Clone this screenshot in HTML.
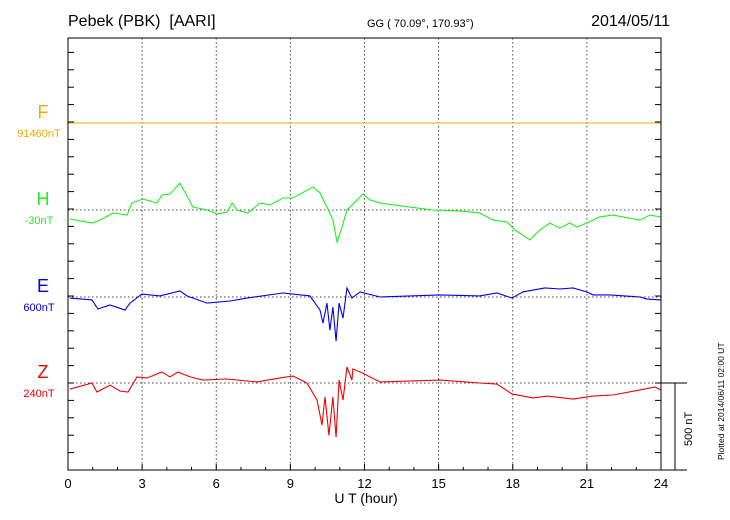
<!DOCTYPE html>
<html><head><meta charset="utf-8"><style>
body{margin:0;background:#fff;}
svg{display:block;font-family:"Liberation Sans",sans-serif;}
</style></head><body>
<svg id="chart" width="730" height="520">
<text x="68" y="26" font-size="16">Pebek (PBK)&#160; [AARI]</text>
<text x="367" y="27" font-size="11">GG ( 70.09°, 170.93°)</text>
<text x="670" y="26" font-size="16" text-anchor="end">2014/05/11</text>
<text x="366" y="503" font-size="14" text-anchor="middle">U T (hour)</text>
<text transform="translate(724,460) rotate(-90)" font-size="8.5">Plotted at 2014/06/11 02:00 UT</text>
<g id="grid"></g><g id="series"></g><g id="axes"></g>
</svg>
<script>
const xTicks=[0,3,6,9,12,15,18,21,24];
const compNames=["F","H","E","Z"];
const compBaseLabels=["91460nT","-30nT","600nT","240nT"];
const hT=[0.08,0.97,1.30,1.82,2.39,2.59,3.04,3.60,3.80,4.13,4.53,5.06,5.63,6.03,6.43,6.64,6.84,7.28,7.77,8.17,8.70,9.10,9.92,10.2,10.48,10.72,10.89,11.09,11.29,11.5,11.94,12.22,12.63,13.84,14.77,15.86,16.67,17.2,17.77,18.09,18.7,19.1,19.5,19.9,20.3,20.6,21.1,21.5,22.06,23.15,23.55,24];
const hV=[-52,-75,-58,-17,-29,40,63,40,86,92,155,17,0,-23,-12,40,0,-17,40,29,69,69,132,98,17,-58,-184,-98,0,29,92,58,40,17,0,-6,-17,-58,-69,-115,-172,-115,-75,-104,-75,-98,-69,-40,-29,-58,-29,-40];
const eT=[0.08,0.97,1.21,1.70,2.31,2.51,2.99,3.72,4.53,4.82,5.63,6.56,7.24,8.70,9.79,10.2,10.32,10.48,10.6,10.72,10.85,10.97,11.13,11.29,11.49,11.82,12.63,15.05,16.67,17.36,17.97,18.41,19.3,19.91,20.44,21.0,21.25,21.93,23.15,23.43,24];
const eV=[-6,-17,-69,-46,-75,-35,17,6,35,6,-35,-23,-6,23,6,-75,-150,-35,-190,-58,-253,-35,-121,52,-6,29,0,12,6,23,-6,29,52,46,52,29,12,12,0,-12,-17];
const zT=[0.08,0.97,1.17,1.70,2.10,2.43,2.79,3.20,3.80,4.13,4.45,4.94,5.46,6.43,7.65,8.58,9.11,9.67,10.08,10.28,10.40,10.56,10.72,10.85,10.97,11.13,11.29,11.49,11.53,11.9,12.63,15.05,16.67,17.36,17.97,18.82,19.38,20.44,21.25,22.06,23.15,23.76,24];
const zV=[-35,0,-52,-12,-46,-52,35,29,63,35,63,35,17,23,6,29,40,0,-98,-242,-81,-300,-81,-311,17,-98,92,17,81,58,6,17,0,-6,-63,-86,-75,-92,-75,-69,-40,-23,-40];
const fT=[0,24];
const fV=[0,0];

const NS="http://www.w3.org/2000/svg";
const L=68,R=661,T=38,B=470;
const baseY=[123,210,297,383];
const colors=["#f0a800","#22ee22","#0000ee","#ee0000"];
const pxPerNT=87/500;
const xs=h=>L+(R-L)*h/24;
const ys=(v,i)=>baseY[i]-v*pxPerNT;
function mk(tag,attrs,parent){const e=document.createElementNS(NS,tag);for(const k in attrs)e.setAttribute(k,attrs[k]);parent.appendChild(e);return e;}
const grid=document.getElementById('grid'),ser=document.getElementById('series'),ax=document.getElementById('axes');
xTicks.forEach((t,i)=>{
  if(i>0&&i<xTicks.length-1){const g=mk('line',{x1:xs(t),x2:xs(t),y1:T,y2:B,stroke:'#444','stroke-dasharray':'1.5,2.5','stroke-width':1},grid);
  
  }
  const tk=mk('line',{x1:xs(t),x2:xs(t),y1:B,y2:B-6,stroke:'#000'},ax);
  
  
  const lb=mk('text',{x:xs(t),y:488,'font-size':13,'text-anchor':'middle'},ax);lb.textContent=t;
  
  
});
for(let h=1;h<24;h++){if(h%3){const m=mk('line',{x1:xs(h),x2:xs(h),y1:B,y2:B-3,stroke:'#000'},ax);
  
  }}
baseY.forEach((y,i)=>{
  const g=mk('line',{x1:L,x2:R,y1:y,y2:y,stroke:'#444','stroke-dasharray':'1.5,2.5'},grid);
  
  
  const n=mk('text',{x:43,y:y-5,'font-size':18,'text-anchor':'middle',fill:colors[i]},ax);n.textContent=compNames[i];
  
  
  const b=mk('text',{x:39,y:y+14,'font-size':11,'text-anchor':'middle',fill:colors[i]},ax);b.textContent=compBaseLabels[i];
  
  
});
for(let y=B-17.4;y>T;y-=17.4){
  const a=mk('line',{x1:L,x2:L+6,y1:y,y2:y,stroke:'#000'},ax);
  
  
  const c=mk('line',{x1:R,x2:R-6,y1:y,y2:y,stroke:'#000'},ax);
  
  
}
[[fT,fV,0],[hT,hV,1],[eT,eV,2],[zT,zV,3]].forEach(([t,v,i])=>{
  const p=mk('polyline',{points:t.map((h,k)=>xs(h)+','+ys(v[k],i)).join(' '),fill:'none',stroke:colors[i],'stroke-width':1.1},ser);
  
  
});
const fr=mk('rect',{x:L,y:T,width:R-L,height:B-T,fill:'none',stroke:'#000'},ax);


const sb=mk('path',{d:`M${R} 383H687M675 383V${B}M${R} ${B}H687`,stroke:'#000',fill:'none'},ax);


const st=mk('text',{transform:'translate(692,446) rotate(-90)','font-size':11},ax);st.textContent='500 nT';


</script>
</body></html>
